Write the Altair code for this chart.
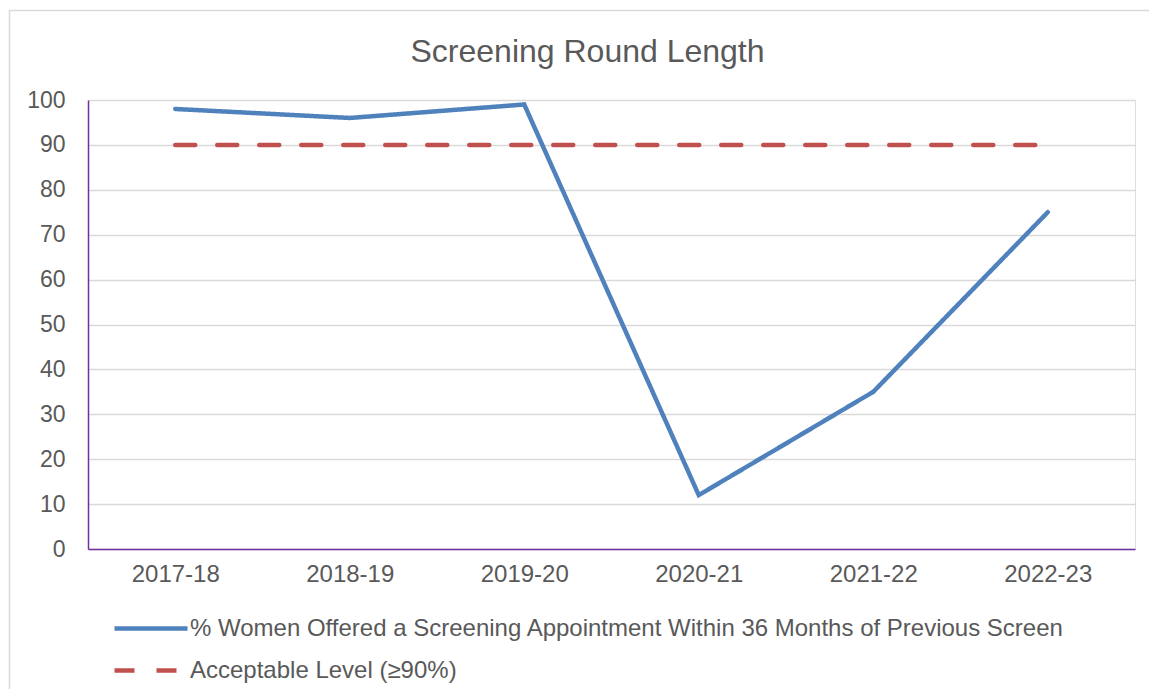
import altair as alt
import pandas as pd

years = ["2017-18", "2018-19", "2019-20", "2020-21", "2021-22", "2022-23"]
offered = [98, 96, 99, 12, 35, 75]
acceptable = [90, 90, 90, 90, 90, 90]
series = ["% Women Offered a Screening Appointment Within 36 Months of Previous Screen",
          "Acceptable Level (\u226590%)"]
title_text = "Screening Round Length"

rows = []
for y, v in zip(years, offered):
    rows.append({"year": y, "value": v, "series": series[0]})
for y, v in zip(years, acceptable):
    rows.append({"year": y, "value": v, "series": series[1]})
df = pd.DataFrame(rows)

FONT = "Liberation Sans"
TXT = "#595959"
W, H = 1047, 449

legend = alt.Legend(
    title=None, orient="none", legendX=24, legendY=516, direction="vertical",
    symbolType="M-1,0H6.3", symbolSize=400, symbolStrokeWidth=4.5,
    labelFontSize=24, labelFont=FONT, labelColor=TXT, labelLimit=1000,
    labelOffset=53, rowPadding=17, padding=0,
)

lines = alt.Chart(df).mark_line(strokeWidth=4.5, strokeCap="round", clip=False).encode(
    x=alt.X("year:N", sort=years, title=None,
            scale=alt.Scale(paddingInner=0, paddingOuter=0),
            axis=alt.Axis(labelAngle=0, labelFontSize=24, labelFont=FONT, labelColor=TXT,
                          ticks=False, domainColor="#7030A0", domainWidth=1.5,
                          labelPadding=13, grid=False)),
    y=alt.Y("value:Q", title=None,
            scale=alt.Scale(domain=[0, 100]),
            axis=alt.Axis(values=list(range(0, 101, 10)), labelFontSize=23, labelFont=FONT,
                          labelColor=TXT, ticks=False, domainColor="#7030A0", domainWidth=1.5,
                          labelPadding=23, gridColor="#D9D9D9", gridWidth=1.3)),
    color=alt.Color("series:N", scale=alt.Scale(domain=series, range=["#4F81BD", "#C0504D"]),
                    legend=legend),
    strokeDash=alt.StrokeDash("series:N", scale=alt.Scale(domain=series, range=[[1, 0], [20, 22]]),
                              legend=legend),
)

frame = alt.Chart(pd.DataFrame({"a": [0]})).mark_rect(
    fill=None, stroke="#D9D9D9", strokeWidth=1.5, clip=False
).encode(x=alt.value(-78.5), x2=alt.value(1200), y=alt.value(-89.5), y2=alt.value(800))

chart = alt.layer(frame, lines).properties(
    width=W, height=H,
    title=alt.TitleParams(title_text, fontSize=32, font=FONT, color=TXT, fontWeight="normal",
                          anchor="middle", dx=-24, offset=-84, baseline="alphabetic"),
    autosize=alt.AutoSizeParams(type="none"),
    padding={"left": 80, "top": 92, "right": 14, "bottom": 140},
).configure_view(stroke=None).configure(background="white")

chart.save("out.html", embed_options={"renderer": "svg", "actions": False})
